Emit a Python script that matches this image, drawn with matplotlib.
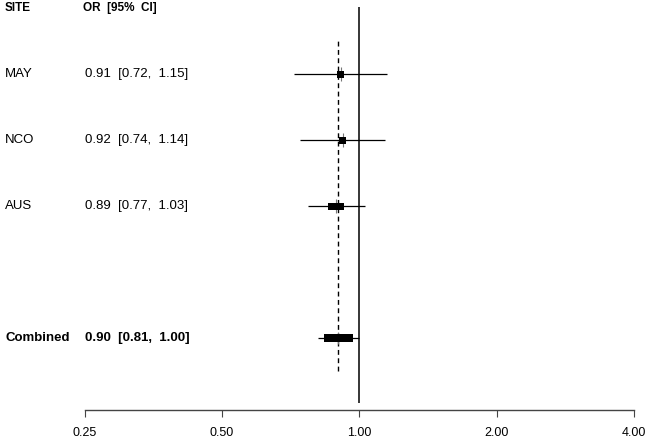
import numpy as np
import matplotlib
matplotlib.use('Agg')
import matplotlib.pyplot as plt
from matplotlib.patches import Rectangle

# study data (odds ratios with 95% CI)
sites = ['MAY', 'NCO', 'AUS']
est = [0.91, 0.92, 0.89]
ci_lo = [0.72, 0.74, 0.77]
ci_hi = [1.15, 1.14, 1.03]
comb_label = 'Combined'
comb_est = 0.90
comb_lo = 0.81
comb_hi = 1.00
tick_vals = [0.25, 0.5, 1.0, 2.0, 4.0]
tick_labels = ['0.25', '0.50', '1.00', '2.00', '4.00']

# box sizes in pixels (width, height)
box_px = [(6.5, 7), (7, 7), (16, 7)]
comb_box_px = (29, 8)

plt.rcParams['font.family'] = ['Liberation Sans', 'DejaVu Sans']

px_per_dbl = 137.3   # pixels per doubling on the x axis
row_px = 66.0        # pixels per row

fig = plt.figure(figsize=(6.49, 4.38), dpi=100)
ax = fig.add_axes([0, 0, 1, 1])
ax.set_xscale('log', base=2)
ax.set_xlim(2 ** (-2 - 84.7 / px_per_dbl), 2 ** (2 + 15 / px_per_dbl))
ax.set_ylim(3 - (438 - 74) / row_px, 4 + 8 / row_px)

k = len(sites)
rows = np.arange(k, 0, -1)
comb_row = -1

def box(x, y, wpx, hpx):
    f = 2 ** (wpx / 2 / px_per_dbl)
    h = hpx / row_px
    ax.add_patch(Rectangle((x / f, y - h / 2), x * f - x / f, h,
                           facecolor='black', edgecolor='none', zorder=3))

# reference and summary lines
ax.vlines(1.0, 3 - (403 - 74) / row_px, 4 + 1 / row_px, color='black', lw=1.1)
ax.vlines(comb_est, -1.5, k + 0.5, color='black', lw=1.0, linestyles=(0, (3.5, 2.5)))

trans = ax.get_yaxis_transform()
for i, r in enumerate(rows):
    ax.hlines(r, ci_lo[i], ci_hi[i], color='black', lw=0.9)
    ax.vlines(est[i], r - 0.1, r + 0.1, color='#777777', lw=0.8)
    box(est[i], r, *box_px[i])
    ax.text(5 / 649, r, sites[i], transform=trans, va='center', ha='left', fontsize=9.5)
    ax.text(85 / 649, r, '%.2f  [%.2f,  %.2f]' % (est[i], ci_lo[i], ci_hi[i]),
            transform=trans, va='center', ha='left', fontsize=9.5)

ax.hlines(comb_row, comb_lo, comb_hi, color='black', lw=0.9)
ax.vlines(comb_est, comb_row - 0.09, comb_row + 0.09, color='#777777', lw=0.8)
box(comb_est, comb_row, *comb_box_px)
ax.text(5 / 649, comb_row, comb_label, transform=trans, va='center', ha='left',
        fontsize=9.5, fontweight='bold')
ax.text(85 / 649, comb_row, '%.2f  [%.2f,  %.2f]' % (comb_est, comb_lo, comb_hi),
        transform=trans, va='center', ha='left', fontsize=9.5, fontweight='bold')

# header
ax.text(5 / 649, k + 1, 'SITE', transform=trans, va='center', ha='left',
        fontsize=8.5, fontweight='bold')
ax.text(83 / 649, k + 1, 'OR  [95%  CI]', transform=trans, va='center', ha='left',
        fontsize=8.5, fontweight='bold')

# x axis
for s in ['top', 'left', 'right']:
    ax.spines[s].set_visible(False)
ax.spines['bottom'].set_position(('data', 3 - (410 - 74) / row_px))
ax.spines['bottom'].set_bounds(0.25, 4.0)
ax.spines['bottom'].set_color('#444444')
ax.spines['bottom'].set_linewidth(1.0)
ax.set_xticks(tick_vals)
ax.set_xticklabels(tick_labels)
ax.xaxis.set_minor_locator(matplotlib.ticker.NullLocator())
ax.tick_params(axis='x', direction='out', length=5, width=0.8, color='#444444',
               labelsize=9, pad=7)
ax.set_yticks([])

fig.savefig('out.png', dpi=100)
